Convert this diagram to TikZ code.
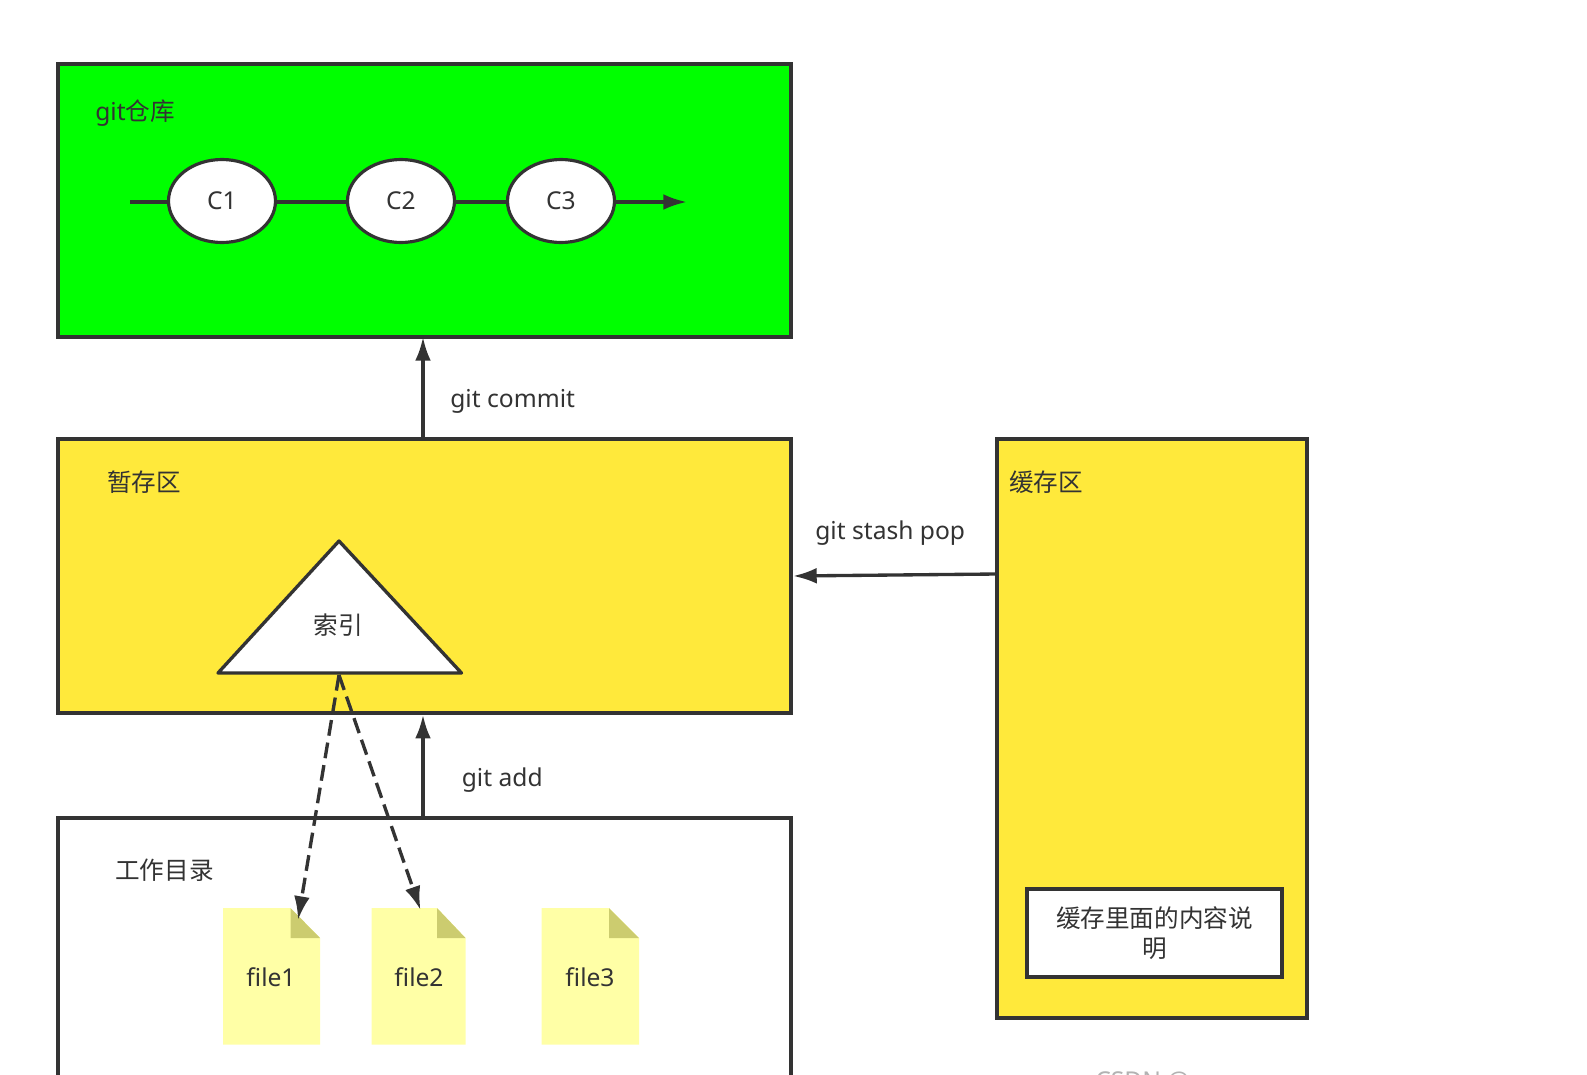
\documentclass[tikz,border=0pt]{standalone}
\usepackage{fontspec}
\setmainfont{Noto Sans}
\newfontfamily\cjk{Noto Sans CJK SC}
\usetikzlibrary{arrows.meta, positioning, shapes.geometric}

\def\px{0.02cm}
\definecolor{inkgray}{HTML}{333333}
\definecolor{repogreen}{HTML}{00FF00}
\definecolor{areayellow}{HTML}{FFE93B}
\definecolor{notefill}{HTML}{FFFFA6}
\definecolor{notefold}{HTML}{CCCC6F}

\begin{document}
\begin{tikzpicture}[x=\px, y=-\px, >={Latex[length=13.5pt,width=9pt]},
  every node/.style={font=\fontsize{14}{17}\selectfont, text=inkgray},
  area/.style={draw=inkgray, line width=1.8pt, anchor=north west, outer sep=0pt},
  commit/.style={draw=inkgray, fill=white, ellipse, line width=1.8pt, inner sep=0pt,
    minimum width=107*\px, minimum height=83*\px},
  link/.style={draw=inkgray, line width=1.9pt},
  caption/.style={anchor=west, inner sep=0pt}]
\useasboundingbox (0,0) rectangle (1587,1075);

% Areas
\node[area, fill=repogreen, minimum width=733*\px, minimum height=273*\px] (repo) at (58,64) {};
\node[area, fill=areayellow, minimum width=733*\px, minimum height=274*\px] (stage) at (58,439) {};
\node[area, fill=white, minimum width=733*\px, minimum height=320*\px] (work) at (58,818) {};
\node[area, fill=areayellow, minimum width=310*\px, minimum height=579*\px] (stash) at (997,439) {};

% Commit line
\coordinate (linestart) at (130,202);
\coordinate (lineend) at (687,202);
\draw[link, ->] (linestart) -- (lineend);
\node[commit] (C1) at (222,201) {C1};
\node[commit] (C2) at (401,201) {C2};
\node[commit] (C3) at (561,201) {C3};

% Index triangle
\coordinate (idxtop) at (339,541);
\coordinate (idxleft) at (218,673);
\coordinate (idxright) at (461.5,673);
\coordinate (idxbase) at (339,675);
\draw[link, fill=white, line join=round] (idxtop) -- (idxleft) -- (idxright) -- cycle;
\node[inner sep=0pt] (idx) at (338,625) {\cjk 索引};

% Files
\foreach \i/\xl/\xf/\xr in {1/223/290.5/320, 2/371.5/437/465.5, 3/541.5/609/639} {
  \fill[notefill] (\xl,908) -- (\xf,908) -- (\xr,938) -- (\xr,1044.5) -- (\xl,1044.5) -- cycle;
  \fill[notefold] (\xf,908) -- (\xr,938) -- (\xf,938) -- cycle;
}
\node[inner sep=0pt] (file1) at (271,977) {file1};
\node[inner sep=0pt] (file2) at (419,977) {file2};
\node[inner sep=0pt] (file3) at (590,977) {file3};

% Connectors
\coordinate (commitstart) at (423,439);
\coordinate (addstart) at (423,818);
\draw[link, ->] (commitstart) -- (commitstart |- repo.south);
\draw[link, ->, shorten >=1pt] (addstart) -- (addstart |- stage.south);
\coordinate (popstart) at (997,574);
\coordinate (popend) at (793,576);
\draw[link, ->] (popstart) -- (popend);
\coordinate (file1tip) at (298,920);
\coordinate (file2tip) at (420.5,910);
\draw[link, ->, dashed, dash pattern=on 9pt off 4pt] (idxbase) -- (file1tip);
\draw[link, ->, dashed, dash pattern=on 9pt off 4pt] (idxbase) -- (file2tip);

% Labels
\node[caption] (repolabel) at (95,113) {git{\cjk 仓库}};
\node[caption] (commitlabel) at (450,401) {git commit};
\node[caption] (stagelabel) at (107,482) {\cjk 暂存区};
\node[caption] (poplabel) at (815,533) {git stash pop};
\node[caption] (stashlabel) at (1009,482) {\cjk 缓存区};
\node[caption] (addlabel) at (461.5,780) {git add};
\node[caption] (worklabel) at (115,870) {\cjk 工作目录};
\node[caption, text=gray!60] (marklabel) at (1095,1082) {CSDN @};

% Note inside the stash
\node[area, fill=white, minimum width=255*\px, minimum height=88*\px, align=center, anchor=center,
  inner sep=0pt] (stashnote) at (1154.5,933) {\cjk 缓存里面的内容说\\\cjk 明};
\end{tikzpicture}
\end{document}
